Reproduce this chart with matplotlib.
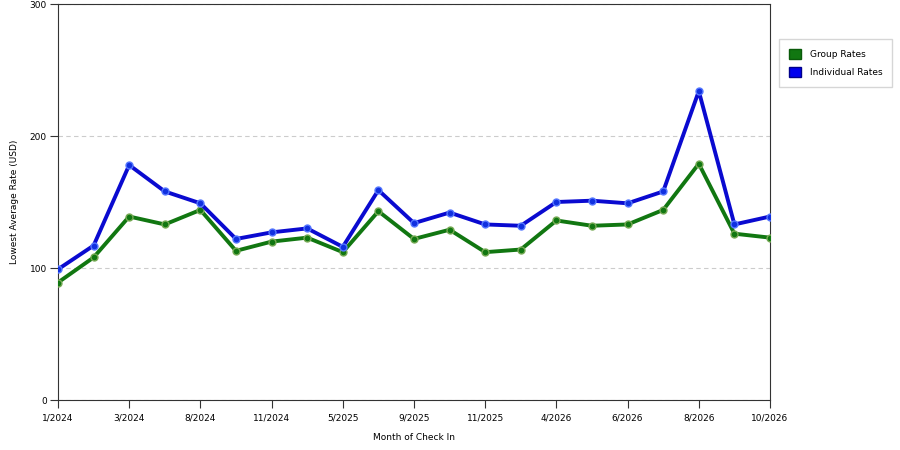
import numpy as np
import matplotlib
matplotlib.use('Agg')
import matplotlib.pyplot as plt
from matplotlib.patches import Patch

# Data
months = ['1/2024', '', '3/2024', '', '8/2024', '', '11/2024', '', '5/2025', '',
          '9/2025', '', '11/2025', '', '4/2026', '', '6/2026', '', '8/2026', '', '10/2026']
group_rates = [89, 108, 139, 133, 144, 113, 120, 123, 112, 143, 122, 129, 112, 114,
               136, 132, 133, 144, 179, 126, 123]
individual_rates = [99, 117, 178, 158, 149, 122, 127, 130, 116, 159, 134, 142, 133, 132,
                    150, 151, 149, 158, 234, 133, 139]

x = np.arange(len(months))

plt.rcParams['font.family'] = ['DejaVu Sans']
fig = plt.figure(figsize=(9, 4.5), dpi=100)
ax = fig.add_axes([58 / 900, 50 / 450, 712 / 900, 396 / 450])

ax.plot(x, group_rates, color='#117711', lw=2.8, marker='o', ms=5,
        markerfacecolor='#117711', markeredgecolor='#77aa55', markeredgewidth=1, zorder=3)
ax.plot(x, individual_rates, color='#0a0ad0', lw=2.8, marker='o', ms=5,
        markerfacecolor='#1030e0', markeredgecolor='#5577ff', markeredgewidth=1, zorder=4)

ax.set_xlim(0, len(months) - 1)
ax.set_ylim(0, 300)
tick_pos = x[::2]
ax.set_xticks(tick_pos)
ax.set_xticklabels([months[i] for i in tick_pos], fontsize=6.5)
ax.set_yticks([0, 100, 200, 300])
ax.set_yticklabels(['0', '100', '200', '300'], fontsize=6.5)
ax.tick_params(length=6, width=0.8, color='#333333')
ax.tick_params(axis='x', pad=4)
ax.tick_params(axis='y', pad=2)
ax.yaxis.grid(True, linestyle=(0, (4, 3)), color='#cccccc', lw=0.8)
ax.set_axisbelow(True)
for s in ax.spines.values():
    s.set_color('#333333')
    s.set_linewidth(0.8)

ax.set_xlabel('Month of Check In', fontsize=6.5, labelpad=7)
ax.set_ylabel('Lowest Average Rate (USD)', fontsize=6.5, labelpad=8)

handles = [Patch(facecolor='#117711', edgecolor='#0a5a0a', label='Group Rates'),
           Patch(facecolor='#0000ee', edgecolor='#00008a', label='Individual Rates')]
fig.legend(handles=handles, loc='upper left', bbox_to_anchor=(779 / 900, 1 - 39 / 450),
           borderaxespad=0, fontsize=6.5, frameon=True, fancybox=False, edgecolor='#cccccc',
           handlelength=1.3, handleheight=1.3, handletextpad=1.0, borderpad=1.1,
           labelspacing=0.9)

fig.savefig('out.png', dpi=100)
